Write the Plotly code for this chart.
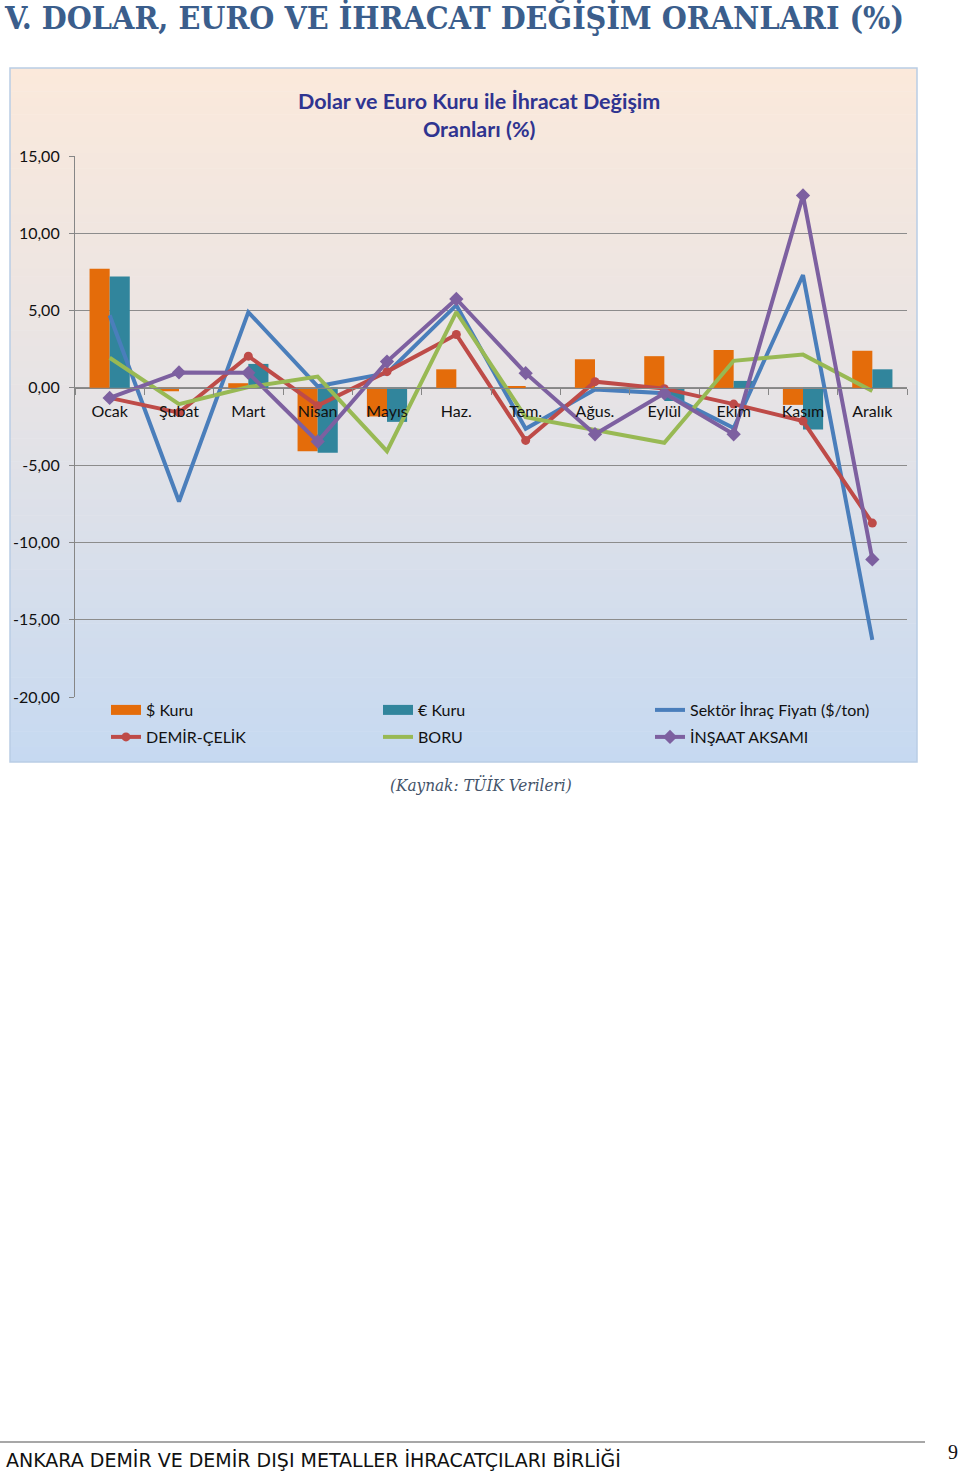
import plotly.graph_objects as go

# ---------------- data ----------------
months = ["Ocak", "Şubat", "Mart", "Nisan", "Mayıs", "Haz.", "Tem.", "Ağus.", "Eylül", "Ekim", "Kasım", "Aralık"]
usd_kuru = [7.7, -0.22, 0.3, -4.1, -1.85, 1.2, 0.1, 1.85, 2.05, 2.45, -1.1, 2.4]
eur_kuru = [7.2, 0.0, 1.55, -4.2, -2.2, 0.0, 0.0, 0.0, -0.85, 0.45, -2.7, 1.2]
sektor_fiyat = [4.7, -7.35, 4.9, 0.1, 0.95, 5.35, -2.65, -0.1, -0.35, -2.6, 7.3, -16.3]
demir_celik = [-0.65, -1.6, 2.05, -1.15, 1.05, 3.45, -3.4, 0.4, -0.05, -1.05, -2.15, -8.75]
boru = [1.95, -1.05, 0.05, 0.73, -4.1, 4.9, -1.9, -2.7, -3.55, 1.75, 2.15, -0.2]
insaat_aksami = [-0.65, 1.0, 0.97, -3.47, 1.7, 5.75, 0.95, -3.0, -0.35, -3.0, 12.45, -11.1]

y_ticks = [-20, -15, -10, -5, 0, 5, 10, 15]
y_tick_labels = ["-20,00", "-15,00", "-10,00", "-5,00", "0,00", "5,00", "10,00", "15,00"]
y_min, y_max = -20, 15

# ---------------- layout helpers ----------------
W, H = 960, 1473
def fx(x):
    return x / W
def fy(y):
    return 1 - y / H

plot_left, plot_right = 75, 907
plot_top, plot_bottom = 156, 697
ydom = [fy(plot_bottom), fy(plot_top)]
zero_pos = ydom[0] + (0 - y_min) / (y_max - y_min) * (ydom[1] - ydom[0])

LABEL_FONT = "Lato, 'Open Sans', sans-serif"
C_USD, C_EUR = "#E46C0A", "#31859C"
C_SEK, C_DEM, C_BOR, C_INS = "#4A7EBB", "#BE4B48", "#98B954", "#7D60A0"

fig = go.Figure()
# bars (legend shown through swatch entries below)
fig.add_trace(go.Bar(x=months, y=usd_kuru, name="$ Kuru", marker_color=C_USD, showlegend=False))
fig.add_trace(go.Bar(x=months, y=eur_kuru, name="€ Kuru", marker_color=C_EUR, showlegend=False))
# legend swatches for the bar series (wide rectangles like the original)
fig.add_trace(go.Scatter(x=[None], y=[None], name="$ Kuru", mode="lines",
                         line=dict(color=C_USD, width=10), legend="legend", legendrank=1))
fig.add_trace(go.Scatter(x=[None], y=[None], name="€ Kuru", mode="lines",
                         line=dict(color=C_EUR, width=10), legend="legend", legendrank=2))
fig.add_trace(go.Scatter(x=months, y=sektor_fiyat, name="Sektör İhraç Fiyatı ($/ton)", mode="lines",
                         line=dict(color=C_SEK, width=4), legend="legend", legendrank=3))
fig.add_trace(go.Scatter(x=months, y=demir_celik, name="DEMİR-ÇELİK", mode="lines+markers",
                         line=dict(color=C_DEM, width=4),
                         marker=dict(symbol="circle", size=9, color=C_DEM), legend="legend2", legendrank=4))
fig.add_trace(go.Scatter(x=months, y=boru, name="BORU", mode="lines",
                         line=dict(color=C_BOR, width=4), legend="legend2", legendrank=5))
fig.add_trace(go.Scatter(x=months, y=insaat_aksami, name="İNŞAAT AKSAMI", mode="lines+markers",
                         line=dict(color=C_INS, width=4),
                         marker=dict(symbol="diamond", size=11, color=C_INS), legend="legend2", legendrank=6))

# gradient background of the chart box
shapes = []
box_x0, box_x1, box_y0, box_y1 = 10, 917, 68, 762
top_c = (251, 233, 219)
mid_c = (229, 227, 230)
bot_c = (198, 217, 241)
n = 90
for i in range(n):
    t = (i + 0.5) / n
    if t < 0.5:
        a, b, u = top_c, mid_c, t / 0.5
    else:
        a, b, u = mid_c, bot_c, (t - 0.5) / 0.5
    c = tuple(round(a[k] + (b[k] - a[k]) * u) for k in range(3))
    y0 = box_y0 + (box_y1 - box_y0) * i / n
    y1 = box_y0 + (box_y1 - box_y0) * (i + 1) / n + 0.6
    shapes.append(dict(type="rect", xref="paper", yref="paper", layer="below",
                       x0=fx(box_x0), x1=fx(box_x1), y0=fy(min(y1, box_y1)), y1=fy(y0),
                       fillcolor="rgb(%d,%d,%d)" % c, line=dict(width=0)))
shapes.append(dict(type="rect", xref="paper", yref="paper", layer="below",
                   x0=fx(box_x0), x1=fx(box_x1), y0=fy(box_y1), y1=fy(box_y0),
                   fillcolor="rgba(0,0,0,0)", line=dict(color="#B9CDE5", width=1.5)))
# footer rule
shapes.append(dict(type="line", xref="paper", yref="paper",
                   x0=0, x1=fx(925), y0=fy(1442), y1=fy(1442),
                   line=dict(color="#8A8A8A", width=1.5)))

annotations = [
    dict(text="V. DOLAR, EURO VE İHRACAT DEĞİŞİM ORANLARI (%)", xref="paper", yref="paper",
         x=fx(2), y=fy(18), xanchor="left", yanchor="middle", showarrow=False,
         font=dict(family="'DejaVu Serif Condensed', 'DejaVu Serif', serif", size=32,
                   color="#3B5E8C", weight="bold")),
    dict(text="<b>Dolar ve Euro Kuru ile İhracat Değişim<br>Oranları (%)</b>", xref="paper", yref="paper",
         x=fx(479), y=fy(115.5), xanchor="center", yanchor="middle", showarrow=False,
         font=dict(family=LABEL_FONT, size=21.5, color="#2F3490")),
    dict(text="<i>(Kaynak: TÜİK Verileri)</i>", xref="paper", yref="paper",
         x=fx(481), y=fy(785), xanchor="center", yanchor="middle", showarrow=False,
         font=dict(family="'DejaVu Serif Condensed', 'DejaVu Serif', serif", size=17, color="#44546A")),
    dict(text="ANKARA DEMİR VE DEMİR DIŞI METALLER İHRACATÇILARI BİRLİĞİ", xref="paper", yref="paper",
         x=fx(4), y=fy(1459), xanchor="left", yanchor="middle", showarrow=False,
         font=dict(family="'DejaVu Sans', sans-serif", size=19, color="#111111")),
    dict(text="9", xref="paper", yref="paper",
         x=fx(953), y=fy(1452), xanchor="center", yanchor="middle", showarrow=False,
         font=dict(family="'Liberation Serif', serif", size=20, color="#111111")),
]

legend_common = dict(orientation="h", xanchor="left", yanchor="middle",
                     font=dict(family=LABEL_FONT, size=16, color="#111111"),
                     entrywidth=227, entrywidthmode="pixels",
                     bgcolor="rgba(0,0,0,0)", traceorder="normal", borderwidth=0)

fig.update_layout(
    template="none",
    width=W, height=H,
    margin=dict(l=0, r=0, t=0, b=0, pad=0, autoexpand=False),
    paper_bgcolor="white",
    plot_bgcolor="rgba(0,0,0,0)",
    barmode="group",
    bargap=0.42,
    bargroupgap=0,
    showlegend=True,
    legend=dict(x=fx(106), y=fy(710), **legend_common),
    legend2=dict(x=fx(106), y=fy(737), **legend_common),
    xaxis=dict(domain=[fx(plot_left), fx(plot_right)], anchor="free", position=zero_pos,
               type="category", categoryorder="array", categoryarray=months,
               range=[-0.5, len(months) - 0.5], automargin=False,
               showline=True, linecolor="#868686", linewidth=1.2,
               ticks="outside", ticklen=6, tickcolor="#868686", tickson="boundaries",
               ticklabelstandoff=9,
               showgrid=False, zeroline=False,
               tickfont=dict(family=LABEL_FONT, size=16, color="#111111")),
    yaxis=dict(domain=ydom, range=[y_min, y_max], tickvals=y_ticks, ticktext=y_tick_labels,
               automargin=False,
               showline=True, linecolor="#868686", linewidth=1.2,
               ticks="outside", ticklen=5, tickcolor="#868686", ticklabelstandoff=6,
               showgrid=True, gridcolor="#8C8C8C", gridwidth=1, zeroline=False,
               tickfont=dict(family=LABEL_FONT, size=16, color="#111111")),
    shapes=shapes,
    annotations=annotations,
)

fig.write_html("out.html",
               config={"displayModeBar": False},
               post_script="document.body.style.margin='0';document.body.style.padding='0';"
                           "document.body.style.overflow='hidden';")
